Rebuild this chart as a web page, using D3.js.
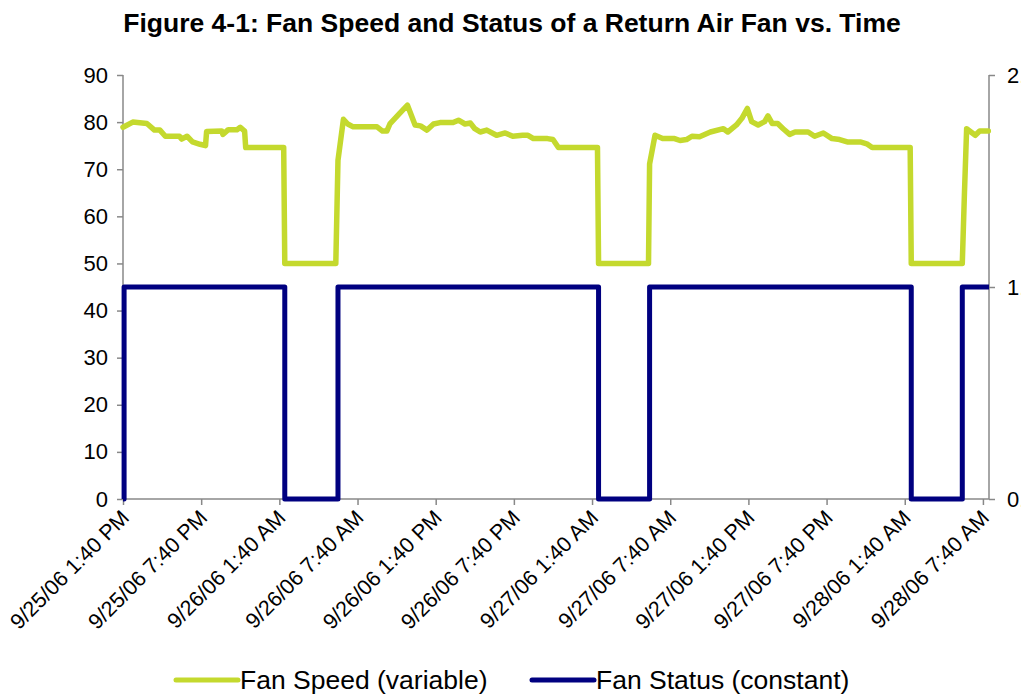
<!DOCTYPE html>
<html>
<head>
<meta charset="utf-8">
<script src="https://cdn.jsdelivr.net/npm/d3@7"></script>
<style>
  body { margin: 0; background: #fff; }
  text { font-family: Arial, "Liberation Sans", sans-serif; fill: #000; }
</style>
</head>
<body>
<svg id="chart"></svg>
<script>
    // fan speed (%)
    var speedTimes = [
        "9/25/06 13:40", "9/25/06 14:25", "9/25/06 15:30", "9/25/06 16:05", "9/25/06 16:30",
        "9/25/06 16:55", "9/25/06 18:00", "9/25/06 18:10", "9/25/06 18:35", "9/25/06 19:00",
        "9/25/06 19:35", "9/25/06 20:00", "9/25/06 20:05", "9/25/06 21:15", "9/25/06 21:20",
        "9/25/06 21:45", "9/25/06 22:25", "9/25/06 22:40", "9/25/06 23:00", "9/25/06 23:05",
        "9/26/06 02:00", "9/26/06 02:05", "9/26/06 06:00", "9/26/06 06:10", "9/26/06 06:35",
        "9/26/06 06:55", "9/26/06 07:20", "9/26/06 09:10", "9/26/06 09:35", "9/26/06 09:55",
        "9/26/06 10:10", "9/26/06 10:55", "9/26/06 11:30", "9/26/06 12:05", "9/26/06 12:30",
        "9/26/06 13:00", "9/26/06 13:30", "9/26/06 14:00", "9/26/06 15:00", "9/26/06 15:25",
        "9/26/06 15:55", "9/26/06 16:20", "9/26/06 16:40", "9/26/06 17:05", "9/26/06 17:35",
        "9/26/06 18:20", "9/26/06 19:00", "9/26/06 19:35", "9/26/06 20:20", "9/26/06 20:45",
        "9/26/06 21:10", "9/26/06 22:15", "9/26/06 22:40", "9/26/06 23:05",
        "9/27/06 02:05", "9/27/06 02:10", "9/27/06 06:00", "9/27/06 06:05", "9/27/06 06:30",
        "9/27/06 07:05", "9/27/06 08:00", "9/27/06 08:25", "9/27/06 08:55", "9/27/06 09:20",
        "9/27/06 09:55", "9/27/06 10:45", "9/27/06 11:45", "9/27/06 12:05", "9/27/06 12:45",
        "9/27/06 13:10", "9/27/06 13:35", "9/27/06 13:55", "9/27/06 14:25", "9/27/06 14:55",
        "9/27/06 15:10", "9/27/06 15:30", "9/27/06 15:55", "9/27/06 16:20", "9/27/06 16:50",
        "9/27/06 17:15", "9/27/06 18:15", "9/27/06 18:45", "9/27/06 19:25", "9/27/06 20:05",
        "9/27/06 20:40", "9/27/06 21:15", "9/27/06 22:15", "9/27/06 22:45", "9/27/06 23:10",
        "9/28/06 02:05", "9/28/06 02:10", "9/28/06 06:05", "9/28/06 06:15", "9/28/06 06:25",
        "9/28/06 07:05", "9/28/06 07:25", "9/28/06 08:05"
    ];
    var speedValues = [
        78.9, 80.0, 79.7, 78.3, 78.3,
        77.0, 77.0, 76.4, 77.0, 75.8,
        75.3, 75.0, 78.0, 78.1, 77.4,
        78.4, 78.4, 78.9, 78.1, 74.6,
        74.6, 50.0, 50.0, 71.9, 80.6,
        79.6, 79.0, 79.0, 78.1, 78.1,
        79.7, 81.9, 83.6, 79.4, 79.2,
        78.3, 79.6, 79.9, 79.9, 80.4,
        79.6, 79.8, 78.6, 77.9, 78.3,
        77.2, 77.7, 77.0, 77.2, 77.2,
        76.5, 76.5, 76.3, 74.6,
        74.6, 50.0, 50.0, 71.1, 77.2,
        76.5, 76.5, 76.1, 76.3, 77.0,
        76.9, 77.9, 78.6, 77.9, 79.4,
        80.8, 82.9, 80.1, 79.4, 80.1,
        81.3, 79.7, 79.7, 78.6, 77.4,
        77.9, 77.9, 77.0, 77.7, 76.5,
        76.3, 75.8, 75.8, 75.4, 74.6,
        74.6, 50.0, 50.0, 65.0, 78.6,
        77.2, 78.1, 78.1
    ];

    // fan status (0 = off, 1 = on), step changes
    var statusTimes = [
        "9/25/06 13:40", "9/25/06 13:45", "9/26/06 02:05", "9/26/06 06:10",
        "9/27/06 02:10", "9/27/06 06:05", "9/28/06 02:10", "9/28/06 06:05", "9/28/06 08:08"
    ];
    var statusValues = [0, 1, 0, 1, 0, 1, 0, 1, 1];

    var xTickLabels = [
        "9/25/06 1:40 PM", "9/25/06 7:40 PM", "9/26/06 1:40 AM", "9/26/06 7:40 AM",
        "9/26/06 1:40 PM", "9/26/06 7:40 PM", "9/27/06 1:40 AM", "9/27/06 7:40 AM",
        "9/27/06 1:40 PM", "9/27/06 7:40 PM", "9/28/06 1:40 AM", "9/28/06 7:40 AM"
    ];
    var leftTicks = [0, 10, 20, 30, 40, 50, 60, 70, 80, 90];
    var rightTicks = [0, 1, 2];
    var seriesNames = ["Fan Speed (variable)", "Fan Status (constant)"];
    var seriesColors = ["#c4d92e", "#000080"];

    var W = 1021, H = 694;
    var plotLeft = 123, plotRight = 989, plotTop = 75, plotBottom = 499;

    var parse = d3.timeParse("%m/%d/%y %H:%M");
    var labelParse = d3.timeParse("%m/%d/%y %I:%M %p");

    var speedData = speedTimes.map(function(t, i) { return { t: parse(t), v: speedValues[i] }; });
    var statusData = statusTimes.map(function(t, i) { return { t: parse(t), v: statusValues[i] }; });

    var svg = d3.select('#chart').attr('width', W).attr('height', H);

    var x = d3.scaleTime()
        .domain([parse("9/25/06 13:40"), parse("9/28/06 08:08")])
        .range([plotLeft, plotRight]);
    var y = d3.scaleLinear().domain([0, 90]).range([plotBottom, plotTop]);
    var y2 = d3.scaleLinear().domain([0, 2]).range([plotBottom, plotTop]);

    // title
    svg.append('text')
        .attr('x', 512).attr('y', 32)
        .attr('text-anchor', 'middle')
        .style('font-size', '26.5px').style('font-weight', 'bold')
        .text("Figure 4-1: Fan Speed and Status of a Return Air Fan vs. Time");

    // axes
    var axisColor = '#888';
    var gl = svg.append('g').attr('transform', 'translate(' + plotLeft + ',0)')
        .call(d3.axisLeft(y).tickValues(leftTicks).tickSize(6).tickPadding(9));
    var gr = svg.append('g').attr('transform', 'translate(' + plotRight + ',0)')
        .call(d3.axisRight(y2).tickValues(rightTicks).tickSize(6).tickPadding(12));
    var gx = svg.append('g').attr('transform', 'translate(0,' + plotBottom + ')')
        .call(d3.axisBottom(x).tickValues(xTickLabels.map(labelParse)).tickSize(6)
            .tickFormat(function(d, i) { return xTickLabels[i]; }));

    [gl, gr, gx].forEach(function(g) {
        g.select('.domain').attr('stroke', axisColor).attr('stroke-width', 1.5);
        g.selectAll('.tick line').attr('stroke', axisColor).attr('stroke-width', 1.5);
        g.selectAll('.tick text').style('font-size', '22px')
            .style('font-family', 'Arial, "Liberation Sans", sans-serif').attr('fill', '#000');
    });
    // straight domain lines, no end caps
    gl.select('.domain').attr('d', 'M0,' + plotTop + 'V' + plotBottom);
    gr.select('.domain').attr('d', 'M0,' + plotTop + 'V' + plotBottom);
    gx.select('.domain').attr('d', 'M' + plotLeft + ',0H' + plotRight);

    gx.selectAll('.tick text')
        .style('font-size', '21.5px')
        .attr('text-anchor', 'end')
        .attr('dy', null).attr('y', 0)
        .attr('transform', 'translate(7,20) rotate(-45)');

    // lines
    var speedLine = d3.line()
        .x(function(d) { return x(d.t); })
        .y(function(d) { return y(d.v); });
    var statusLine = d3.line()
        .curve(d3.curveStepAfter)
        .x(function(d) { return x(d.t); })
        .y(function(d) { return y2(d.v); });

    svg.append('path').datum(speedData)
        .attr('fill', 'none').attr('stroke', seriesColors[0])
        .attr('stroke-width', 5.5).attr('stroke-linejoin', 'round').attr('stroke-linecap', 'round')
        .attr('d', speedLine);
    svg.append('path').datum(statusData)
        .attr('fill', 'none').attr('stroke', seriesColors[1])
        .attr('stroke-width', 5).attr('stroke-linejoin', 'round')
        .attr('d', statusLine);

    // legend
    var legendX = [176, 532];
    var leg = svg.append('g');
    seriesNames.forEach(function(name, i) {
        leg.append('line')
            .attr('x1', legendX[i]).attr('x2', legendX[i] + 62)
            .attr('y1', 680).attr('y2', 680)
            .attr('stroke', seriesColors[i]).attr('stroke-width', 5).attr('stroke-linecap', 'round');
        leg.append('text')
            .attr('x', legendX[i] + 64).attr('y', 689)
            .style('font-size', '26.5px')
            .text(name);
    });
</script>
</body>
</html>
